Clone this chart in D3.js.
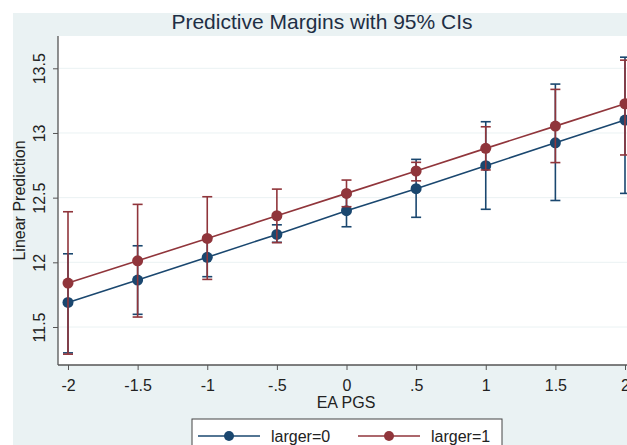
<!DOCTYPE html>
<html>
<head>
<meta charset="utf-8">
<script src="https://cdn.jsdelivr.net/npm/d3@7"></script>
<style>
  html, body { margin: 0; padding: 0; background: #fff; }
  svg { display: block; font-family: "Liberation Sans", Arial, sans-serif; }
</style>
</head>
<body>
<script>
// EA PGS values on the x axis
const pgs = [-2, -1.5, -1, -0.5, 0, 0.5, 1, 1.5, 2];
const xTickLabels = ["-2", "-1.5", "-1", "-.5", "0", ".5", "1", "1.5", "2"];
const yTicks = [11.5, 12, 12.5, 13, 13.5];
const yTickLabels = ["11.5", "12", "12.5", "13", "13.5"];

// larger=0 margins and 95% CIs
const margin0 = [11.69, 11.863, 12.039, 12.216, 12.399, 12.569, 12.747, 12.924, 13.10];
const low0 = [11.30, 11.598, 11.889, 12.155, 12.275, 12.348, 12.41, 12.478, 12.533];
const high0 = [12.066, 12.128, 12.19, 12.29, 12.523, 12.796, 13.087, 13.378, 13.586];

// larger=1 margins and 95% CIs
const margin1 = [11.84, 12.012, 12.185, 12.36, 12.533, 12.706, 12.881, 13.053, 13.226];
const low1 = [11.29, 11.577, 11.868, 12.152, 12.43, 12.63, 12.714, 12.771, 12.83];
const high1 = [12.391, 12.448, 12.507, 12.566, 12.636, 12.773, 13.048, 13.337, 13.563];

const seriesNames = ["larger=0", "larger=1"];
const colors = ["#1a476f", "#90353b"];

const width = 627, height = 445;

const svg = d3.select("body").append("svg")
  .attr("width", width)
  .attr("height", height);

// graph region (light bluish gray) and plot region (white)
svg.append("rect").attr("x", 13).attr("y", 13)
  .attr("width", width - 13).attr("height", height - 13)
  .attr("fill", "#eaf2f3");

const plotLeft = 58, plotTop = 36, plotBottom = 365, plotRight = 640;

svg.append("rect").attr("x", plotLeft).attr("y", plotTop)
  .attr("width", plotRight - plotLeft).attr("height", plotBottom - plotTop)
  .attr("fill", "#fff");

const x = d3.scaleLinear().domain([-2, 2]).range([68, 625]);
const y = d3.scaleLinear().domain([11.5, 13.5]).range([327, 68.3]);

// title
svg.append("text")
  .attr("x", 322).attr("y", 29)
  .attr("text-anchor", "middle")
  .attr("font-size", 21)
  .attr("fill", "#1e2f45")
  .text("Predictive Margins with 95% CIs");

// grid lines
svg.append("g").selectAll("line")
  .data(yTicks)
  .join("line")
  .attr("x1", plotLeft + 1).attr("x2", plotRight)
  .attr("y1", d => y(d)).attr("y2", d => y(d))
  .attr("stroke", "#eaf2f3").attr("stroke-width", 1);

// y axis
const yAxis = svg.append("g")
  .attr("transform", `translate(${plotLeft},0)`)
  .call(d3.axisLeft(y).tickValues(yTicks).tickSize(5)
    .tickFormat((d, i) => yTickLabels[i]));
yAxis.select(".domain").remove();
yAxis.selectAll(".tick line").attr("stroke", "#555");
yAxis.selectAll(".tick text")
  .attr("font-size", 16)
  .attr("fill", "#222")
  .attr("text-anchor", "middle")
  .attr("dy", 0)
  .attr("x", 0)
  .attr("transform", "translate(-13,0) rotate(-90)");
svg.append("line")
  .attr("x1", plotLeft).attr("x2", plotLeft)
  .attr("y1", plotTop).attr("y2", plotBottom)
  .attr("stroke", "#555").attr("stroke-width", 1.3);

// x axis
const xAxis = svg.append("g")
  .attr("transform", `translate(0,${plotBottom})`)
  .call(d3.axisBottom(x).tickValues(pgs).tickSize(5)
    .tickFormat((d, i) => xTickLabels[i]));
xAxis.select(".domain").remove();
xAxis.selectAll(".tick line").attr("stroke", "#555");
xAxis.selectAll(".tick text")
  .attr("font-size", 16)
  .attr("fill", "#222")
  .attr("y", 15)
  .attr("dy", "0.71em");
svg.append("line")
  .attr("x1", plotLeft).attr("x2", plotRight)
  .attr("y1", plotBottom).attr("y2", plotBottom)
  .attr("stroke", "#555").attr("stroke-width", 1.3);

// axis titles
svg.append("text")
  .attr("transform", `translate(25,${(plotTop + plotBottom) / 2}) rotate(-90)`)
  .attr("text-anchor", "middle")
  .attr("font-size", 16)
  .attr("fill", "#222")
  .text("Linear Prediction");

svg.append("text")
  .attr("x", 346).attr("y", 408)
  .attr("text-anchor", "middle")
  .attr("font-size", 16)
  .attr("fill", "#222")
  .text("EA PGS");

// series
const series = [
  { name: seriesNames[0], color: colors[0], m: margin0, lo: low0, hi: high0 },
  { name: seriesNames[1], color: colors[1], m: margin1, lo: low1, hi: high1 }
];

const line = d3.line().x(d => x(d.x)).y(d => y(d.v));
const capW = 5;

series.forEach(s => {
  const pts = pgs.map((p, i) => ({ x: p, v: s.m[i], lo: s.lo[i], hi: s.hi[i] }));
  const g = svg.append("g");

  // error bars
  const eb = g.selectAll(".eb").data(pts).join("g");
  eb.append("line")
    .attr("x1", d => x(d.x)).attr("x2", d => x(d.x))
    .attr("y1", d => y(d.lo)).attr("y2", d => y(d.hi))
    .attr("stroke", s.color).attr("stroke-width", 1.6);
  ["lo", "hi"].forEach(k => {
    eb.append("line")
      .attr("x1", d => x(d.x) - capW).attr("x2", d => x(d.x) + capW)
      .attr("y1", d => y(d[k])).attr("y2", d => y(d[k]))
      .attr("stroke", s.color).attr("stroke-width", 1.6);
  });

  g.append("path")
    .datum(pts)
    .attr("d", line)
    .attr("fill", "none")
    .attr("stroke", s.color)
    .attr("stroke-width", 1.6);

  g.selectAll("circle").data(pts).join("circle")
    .attr("cx", d => x(d.x)).attr("cy", d => y(d.v))
    .attr("r", 5.5)
    .attr("fill", s.color);
});

// legend
const legend = svg.append("g");
legend.append("rect")
  .attr("x", 192).attr("y", 419)
  .attr("width", 310).attr("height", 40)
  .attr("fill", "#fff")
  .attr("stroke", "#444").attr("stroke-width", 1);

const legendX = [198, 358];
series.forEach((s, i) => {
  const lx = legendX[i], ly = 436;
  legend.append("line")
    .attr("x1", lx).attr("x2", lx + 62)
    .attr("y1", ly).attr("y2", ly)
    .attr("stroke", s.color).attr("stroke-width", 1.6);
  legend.append("circle")
    .attr("cx", lx + 31).attr("cy", ly).attr("r", 5)
    .attr("fill", s.color);
  legend.append("text")
    .attr("x", lx + 73).attr("y", ly + 6)
    .attr("font-size", 16)
    .attr("fill", "#222")
    .text(s.name);
});
</script>
</body>
</html>
